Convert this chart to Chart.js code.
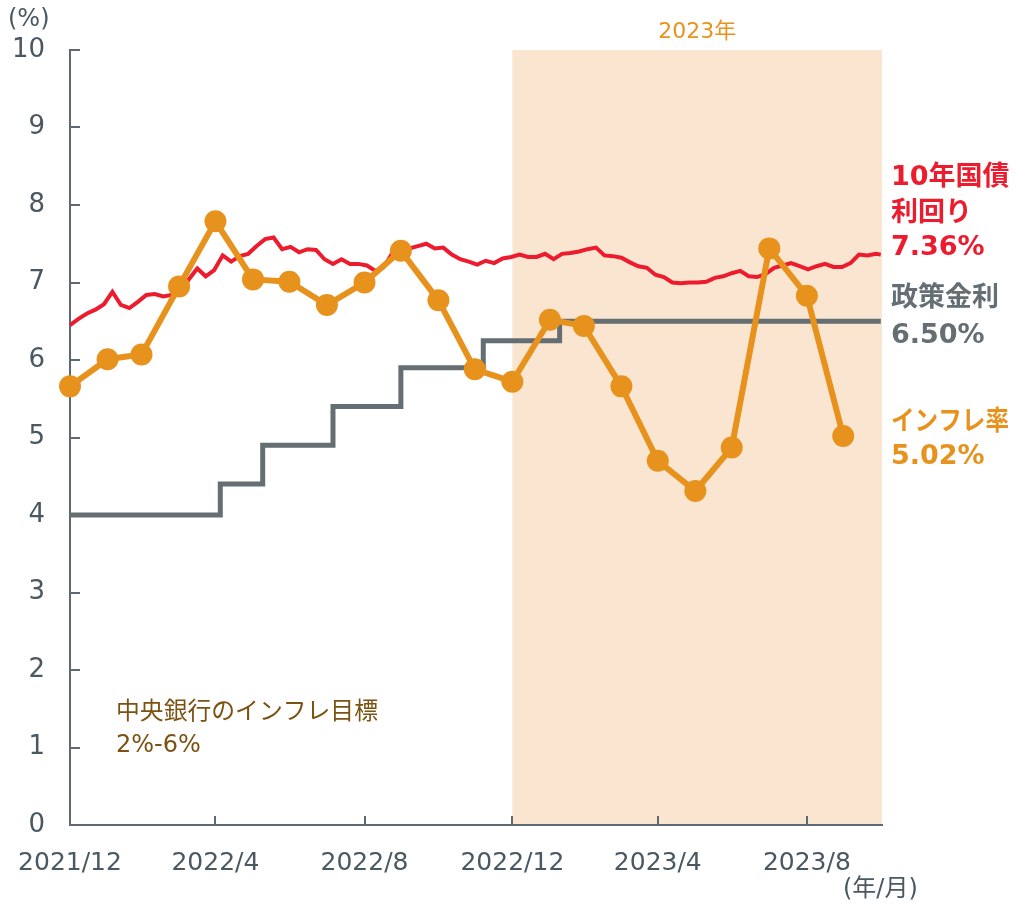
<!DOCTYPE html>
<html>
<head>
<meta charset="utf-8">
<script src="https://cdn.jsdelivr.net/npm/chart.js@4"></script>
<style>
  html, body { margin: 0; padding: 0; background: #fff; }
</style>
</head>
<body>
<canvas id="chart" width="1018" height="906"></canvas>
<script>
// Axis dates (x axis counts days from baseDate)
const baseDate = '2021-12-31';
const axisEndDate = '2023-11-01';
const shadeStartDate = '2022-12-31';
const tickDates = ['2021-12-31', '2022-04-30', '2022-08-31', '2022-12-31', '2023-04-30', '2023-08-31'];
const tickLabels = ['2021/12', '2022/4', '2022/8', '2022/12', '2023/4', '2023/8'];
const yTicks = [0, 1, 2, 3, 4, 5, 6, 7, 8, 9, 10];

// Inflation rate (monthly, plotted at month end)
const inflationDates = [
    '2021-12-31', '2022-01-31', '2022-02-28', '2022-03-31', '2022-04-30', '2022-05-31',
    '2022-06-30', '2022-07-31', '2022-08-31', '2022-09-30', '2022-10-31', '2022-11-30',
    '2022-12-31', '2023-01-31', '2023-02-28', '2023-03-31', '2023-04-30', '2023-05-31',
    '2023-06-30', '2023-07-31', '2023-08-31', '2023-09-30'
];
const inflationValues = [
    5.66, 6.01, 6.07, 6.95, 7.79, 7.04, 7.01, 6.71, 7.00, 7.41, 6.77, 5.88,
    5.72, 6.52, 6.44, 5.66, 4.70, 4.31, 4.87, 7.44, 6.83, 5.02
];

// Policy rate (change dates)
const policyDates = ['2021-12-31', '2022-05-04', '2022-06-08', '2022-08-05', '2022-09-30', '2022-12-07', '2023-02-08', '2023-10-31'];
const policyValues = [4.00, 4.40, 4.90, 5.40, 5.90, 6.25, 6.50, 6.50];

// 10y government bond yield, weekly samples starting at baseDate
const yieldWeekly = [
    6.45, 6.53, 6.60, 6.65, 6.72, 6.88, 6.71, 6.67, 6.75, 6.84,
    6.85, 6.82, 6.84, 6.86, 7.04, 7.18, 7.08, 7.16, 7.35, 7.27,
    7.34, 7.37, 7.47, 7.56, 7.58, 7.43, 7.46, 7.39, 7.43, 7.42,
    7.30, 7.24, 7.30, 7.24, 7.24, 7.22, 7.15, 7.20, 7.38, 7.45,
    7.44, 7.47, 7.50, 7.44, 7.45, 7.36, 7.30, 7.27, 7.23, 7.28,
    7.25, 7.31, 7.33, 7.36, 7.33, 7.33, 7.37, 7.30, 7.37, 7.38,
    7.40, 7.43, 7.45, 7.35, 7.34, 7.32, 7.26, 7.21, 7.19, 7.10,
    7.07, 7.00, 6.99, 7.00, 7.00, 7.01, 7.06, 7.08, 7.12, 7.15,
    7.08, 7.07, 7.11, 7.19, 7.22, 7.25, 7.21, 7.17, 7.21, 7.24,
    7.20, 7.20, 7.25, 7.36, 7.35, 7.37
];
const yieldLatestDate = '2023-10-31';
const yieldLatest = 7.36;

const RED = '#EC1C2E';
const ORANGE = '#E8921E';
const GRAY = '#646E73';
const SHADE = '#FAE6D0';
const AXIS = '#5E6A73';
const TEXT = '#4A5862';
const NUM_FONT = "'DejaVu Sans', 'Noto Sans CJK JP', sans-serif";

function toDay(d) {
    return (Date.parse(d) - Date.parse(baseDate)) / 86400000;
}

const inflationPoints = inflationDates.map((d, i) => ({ x: toDay(d), y: inflationValues[i] }));
const policyPoints = policyDates.map((d, i) => ({ x: toDay(d), y: policyValues[i] }));
const yieldPoints = yieldWeekly.map((v, i) => ({ x: i * 7, y: v }));
yieldPoints.push({ x: toDay(yieldLatestDate), y: yieldLatest });

const tickDays = tickDates.map(toDay);

const decor = {
    id: 'decor',
    beforeDraw(chart) {
        const { ctx, chartArea: a, scales: { x } } = chart;
        const x0 = x.getPixelForValue(toDay(shadeStartDate));
        ctx.save();
        ctx.fillStyle = SHADE;
        ctx.fillRect(x0, a.top, a.right - x0, a.bottom - a.top);
        ctx.fillStyle = ORANGE;
        ctx.font = '22px ' + NUM_FONT;
        ctx.textAlign = 'center';
        ctx.textBaseline = 'middle';
        ctx.fillText('2023年', (x0 + a.right) / 2, 32);
        ctx.restore();
    },
    beforeDatasetsDraw(chart) {
        const { ctx, chartArea: a, scales: { x, y } } = chart;
        ctx.save();
        ctx.strokeStyle = AXIS;
        ctx.lineWidth = 2;
        ctx.beginPath();
        yTicks.slice(1).forEach(v => {
            const py = Math.round(y.getPixelForValue(v));
            ctx.moveTo(a.left, py);
            ctx.lineTo(a.left + 10, py);
        });
        tickDays.slice(1).forEach(v => {
            const px = Math.round(x.getPixelForValue(v));
            ctx.moveTo(px, a.bottom);
            ctx.lineTo(px, a.bottom - 9);
        });
        ctx.stroke();
        ctx.restore();
    },
    afterDraw(chart) {
        const { ctx, chartArea: a, scales: { y } } = chart;
        ctx.save();
        ctx.textBaseline = 'middle';
        ctx.textAlign = 'left';

        ctx.fillStyle = TEXT;
        ctx.font = '24px ' + NUM_FONT;
        ctx.fillText('(%)', 8, 20);
        ctx.fillText('(年/月)', 843, 890);

        const lx = a.right + 9;
        ctx.font = 'bold 27px ' + NUM_FONT;
        const yr = y.getPixelForValue(yieldLatest);
        ctx.fillStyle = RED;
        ctx.fillText('10年国債', lx, yr - 77, 124);
        ctx.fillText('利回り', lx, yr - 41);
        ctx.fillText('7.36%', lx, yr - 7);

        const yp = y.getPixelForValue(policyValues[policyValues.length - 1]);
        ctx.fillStyle = GRAY;
        ctx.fillText('政策金利', lx, yp - 22, 116);
        ctx.fillText('6.50%', lx, yp + 15);

        const yi = y.getPixelForValue(inflationValues[inflationValues.length - 1]);
        ctx.fillStyle = ORANGE;
        ctx.fillText('インフレ率', lx, yi - 13, 118);
        ctx.fillText('5.02%', lx, yi + 21);

        ctx.fillStyle = '#7B5212';
        ctx.font = "24px 'Noto Sans CJK JP', sans-serif";
        ctx.fillText('中央銀行のインフレ目標', 116, y.getPixelForValue(1.48), 262);
        ctx.font = '24px ' + NUM_FONT;
        ctx.fillText('2%-6%', 116, y.getPixelForValue(1.02));
        ctx.restore();
    }
};

new Chart(document.getElementById('chart'), {
    type: 'line',
    data: {
        datasets: [
            {
                label: 'インフレ率',
                data: inflationPoints,
                borderColor: ORANGE,
                backgroundColor: ORANGE,
                borderWidth: 6,
                pointRadius: 11,
                pointBorderWidth: 0,
                pointBackgroundColor: ORANGE,
                tension: 0,
                clip: false,
            },
            {
                label: '10年国債利回り',
                data: yieldPoints,
                borderColor: RED,
                borderWidth: 4,
                pointRadius: 0,
                tension: 0,
                clip: false,
            },
            {
                label: '政策金利',
                data: policyPoints,
                borderColor: GRAY,
                borderWidth: 5,
                pointRadius: 0,
                stepped: 'before',
                clip: false,
            },
        ],
    },
    options: {
        responsive: false,
        animation: false,
        devicePixelRatio: 1,
        layout: { padding: { top: 50, right: 136, left: 0, bottom: 0 } },
        plugins: {
            legend: { display: false },
            tooltip: { enabled: false },
        },
        scales: {
            x: {
                type: 'linear',
                min: 0,
                max: toDay(axisEndDate),
                grid: { display: false, drawTicks: false },
                border: { display: true, color: AXIS, width: 2 },
                afterBuildTicks: (scale) => {
                    scale.ticks = tickDays.map(v => ({ value: v }));
                },
                afterFit: (scale) => { scale.height = 81; },
                ticks: {
                    autoSkip: false,
                    maxRotation: 0,
                    padding: 3,
                    color: TEXT,
                    font: { family: NUM_FONT, size: 25, lineHeight: 2.8 },
                    callback: (v) => tickLabels[tickDays.indexOf(v)],
                },
            },
            y: {
                min: 0,
                max: 10,
                grid: { display: false, drawTicks: false },
                border: { display: true, color: AXIS, width: 2 },
                afterFit: (scale) => { scale.width = 70; },
                afterBuildTicks: (scale) => {
                    scale.ticks = yTicks.map(v => ({ value: v }));
                },
                ticks: {
                    padding: 25,
                    color: TEXT,
                    font: { family: NUM_FONT, size: 26 },
                },
            },
        },
    },
    plugins: [decor],
});
</script>
</body>
</html>
